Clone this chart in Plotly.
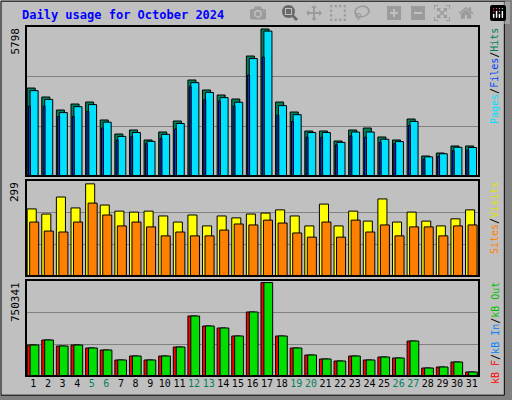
import plotly.graph_objects as go

days = list(range(1, 32))
hits = [3400, 3054, 2551, 2783, 2860, 2165, 1623, 1778, 1392, 1701, 2126, 3711, 3324, 3131, 2976, 4638,
        5682, 2860, 2474, 1739, 1739, 1353, 1778, 1855, 1508, 1392, 2203, 773, 889, 1160, 1160]
files = [3300, 2960, 2450, 2680, 2760, 2080, 1530, 1680, 1340, 1610, 2030, 3610, 3230, 3030, 2850, 4540,
         5600, 2720, 2370, 1680, 1680, 1300, 1700, 1700, 1420, 1330, 2110, 740, 860, 1110, 1100]
pages = [2700, 2700, 2300, 2300, 2500, 1850, 1380, 1520, 1250, 1450, 1820, 3450, 2950, 2900, 2700, 3900,
         4600, 2350, 2100, 1500, 1500, 1200, 1550, 1500, 1300, 1250, 1950, 650, 750, 980, 1000]
visits = [209, 193, 246, 212, 287, 221, 202, 199, 202, 187, 168, 190, 156, 187, 181, 193,
          196, 206, 187, 156, 224, 156, 202, 171, 240, 168, 199, 171, 156, 178, 206]
sites = [168, 140, 137, 168, 227, 190, 156, 168, 153, 125, 137, 125, 125, 143, 162, 159,
         174, 165, 134, 121, 168, 121, 174, 137, 159, 125, 153, 153, 125, 156, 159]
kb_out = [242300, 281400, 234500, 242300, 218800, 203200, 125100, 156300, 125100, 156300, 226700,
          469000, 390800, 375200, 312600, 500200, 730000, 312600, 218800, 164100, 132900, 117200,
          156300, 125100, 148500, 140700, 273600, 62500, 70300, 109400, 31300]
kb_f = [v * 1.0 for v in kb_out]
weekend = [5, 6, 12, 13, 19, 20, 26, 27]
max_hits, max_visits, max_kb = 5798, 299, 750341

ticktext = [f'<span style="color:#00805c">{d}</span>' if d in weekend else str(d) for d in days]
ln = dict(color='black', width=1)

fig = go.Figure()
def bar(y, color, off, w, xa, ya):
    fig.add_trace(go.Bar(x=days, y=y, offset=off, width=w, marker_color=color, marker_line=ln,
                         xaxis=xa, yaxis=ya, hoverinfo='y'))

bar(hits, '#00805c', -0.42, 0.55, 'x', 'y')
bar(files, '#00e0ff', -0.22, 0.55, 'x', 'y')
bar(pages, '#0040ff', -0.33, 0.13, 'x', 'y')
bar(visits, '#ffff00', -0.42, 0.62, 'x2', 'y2')
bar(sites, '#ff8000', -0.25, 0.62, 'x2', 'y2')
bar(kb_f, '#ff0000', -0.42, 0.6, 'x3', 'y3')
bar(kb_out, '#00e000', -0.22, 0.6, 'x3', 'y3')

xd = [26 / 512, 479 / 512]
xcommon = dict(domain=xd, range=[0.5, 31.5], showgrid=False, zeroline=False, showline=False)
ycommon = dict(showgrid=True, gridcolor='#808080', gridwidth=1, zeroline=False, showticklabels=False,
               showline=False)

fig.update_layout(
    width=512, height=400, margin=dict(l=0, r=0, t=0, b=0),
    paper_bgcolor='#c0c0c0', plot_bgcolor='#c0c0c0', showlegend=False, barmode='overlay',
    font=dict(family='DejaVu Sans Mono', size=11, color='black'),
    xaxis=dict(**xcommon, anchor='y', showticklabels=False),
    xaxis2=dict(**xcommon, anchor='y2', showticklabels=False),
    xaxis3=dict(**xcommon, anchor='y3', tickmode='array', tickvals=days, ticktext=ticktext,
                ticks='', tickangle=0, tickfont=dict(size=10)),
    yaxis=dict(**ycommon, domain=[1 - 176 / 400, 1 - 26 / 400], range=[0, max_hits],
               tickvals=[max_hits / 3, 2 * max_hits / 3]),
    yaxis2=dict(**ycommon, domain=[1 - 276 / 400, 1 - 180 / 400], range=[0, max_visits],
                tickvals=[max_visits / 3, 2 * max_visits / 3]),
    yaxis3=dict(**ycommon, domain=[1 - 376 / 400, 1 - 280 / 400], range=[0, max_kb],
                tickvals=[max_kb / 3, 2 * max_kb / 3]),
)

# frames
shapes = [dict(type='rect', xref='paper', yref='paper', x0=0.002, x1=0.985, y0=0.012, y1=0.997,
               line=dict(color='black', width=1))]
for y0, y1 in [(26, 176), (180, 276), (280, 376)]:
    shapes.append(dict(type='rect', xref='paper', yref='paper', x0=xd[0], x1=xd[1],
                       y0=1 - y1 / 400, y1=1 - y0 / 400, line=dict(color='black', width=2)))
shapes.append(dict(type='rect', xref='paper', yref='paper', x0=0.985, x1=1, y0=0, y1=1,
                   fillcolor='#808080', line_width=0, layer='below'))
shapes.append(dict(type='rect', xref='paper', yref='paper', x0=0, x1=1, y0=0, y1=0.012,
                   fillcolor='#808080', line_width=0, layer='below'))
fig.update_layout(shapes=shapes)

ann = [dict(text='<b>Daily usage for October 2024</b>', x=20 / 512, y=1 - 15 / 400, xanchor='left',
            yanchor='middle', font=dict(color='#0000ff', size=12))]
for lab, ytop in [(str(max_hits), 26), (str(max_visits), 180), (str(max_kb), 280)]:
    ann.append(dict(text=lab, x=15 / 512, y=1 - ytop / 400, xanchor='center', yanchor='top',
                    textangle=-90, font=dict(size=11)))
right = [
    ('<span style="color:#00e0ff">Pages</span>/<span style="color:#0040ff">Files</span>/'
     '<span style="color:#00805c">Hits</span>', 26),
    ('<span style="color:#ff8000">Sites</span>/<span style="color:#e0e000">Visits</span>', 180),
    ('<span style="color:#ff0000">kB F</span>/<span style="color:#0080ff">kB In</span>/'
     '<span style="color:#00c000">kB Out</span>', 280),
]
for txt, ytop in right:
    ann.append(dict(text=txt, x=495 / 512, y=1 - ytop / 400, xanchor='center', yanchor='top',
                    textangle=-90, font=dict(size=10, color='black')))
fig.update_layout(annotations=[dict(a, xref='paper', yref='paper', showarrow=False) for a in ann])

fig.write_html("out.html", post_script="document.body.style.margin='0';document.body.style.overflow='hidden';")
